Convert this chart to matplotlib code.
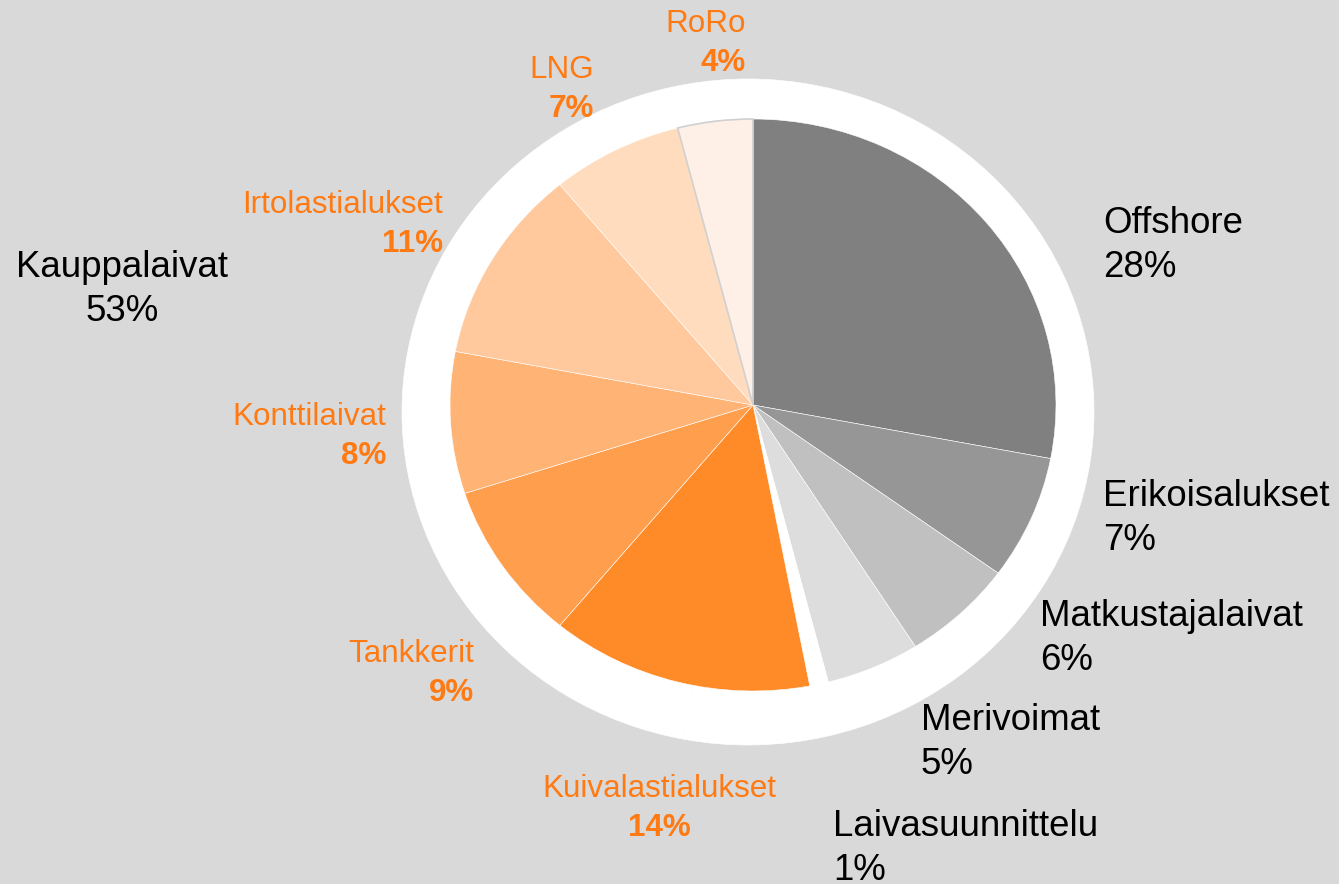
import matplotlib.pyplot as plt

# sectors, clockwise from 12 o'clock
names = ['Offshore', 'Erikoisalukset', 'Matkustajalaivat', 'Merivoimat', 'Laivasuunnittelu',
         'Kuivalastialukset', 'Tankkerit', 'Konttilaivat', 'Irtolastialukset', 'LNG', 'RoRo']
shares = [28, 7, 6, 5, 1, 14, 9, 8, 11, 7, 4]
merchant = [False, False, False, False, False, True, True, True, True, True, True]

group_names = ['Muut', 'Kauppalaivat']
group_shares = [47, 53]

slice_colors = ['#808080', '#969696', '#C0C0C0', '#DDDDDD', '#FFFFFF',
                '#FF8A28', '#FF9E4C', '#FFB374', '#FFC99D', '#FFDCBE', '#FEF0E6']

W, H = 1339, 884
BG = '#D9D9D9'
ORANGE = '#FF7A12'
plt.rcParams['font.family'] = ['Liberation Sans', 'DejaVu Sans']

fig = plt.figure(figsize=(W / 100, H / 100), dpi=100, facecolor=BG)

# outer white ring (slightly wider than tall, like the original)
ax_ring = fig.add_axes([0, 0, 1, 1])
rx, ry = 346, 333
sy = rx / ry
ax_ring.pie(group_shares[::-1], colors=['white', 'white'], startangle=90, counterclock=False,
            radius=rx, center=(748, (H - 412) * sy), frame=True,
            wedgeprops=dict(edgecolor='white', linewidth=0.5))
ax_ring.set_aspect('auto')
ax_ring.set_xlim(0, W)
ax_ring.set_ylim(0, H * sy)
ax_ring.axis('off')

# the pie itself
ax = fig.add_axes([0, 0, 1, 1])
ax.patch.set_alpha(0)
px, py = 303, 286
sy2 = px / py
wedges, _ = ax.pie(shares, colors=slice_colors, startangle=90, counterclock=False,
                   radius=px, center=(753, (H - 405) * sy2), frame=True,
                   wedgeprops=dict(edgecolor='white', linewidth=0.4))
wedges[-1].set_edgecolor('#D0D0D0')
wedges[-1].set_linewidth(1.2)
ax.set_aspect('auto')
ax.set_xlim(0, W)
ax.set_ylim(0, H * sy2)
ax.axis('off')

# label layout: (x, baseline of first line, alignment) in pixels
label_pos = {
    'Offshore': (1103, 233, 'left'),
    'Erikoisalukset': (1103, 506, 'left'),
    'Matkustajalaivat': (1040, 626, 'left'),
    'Merivoimat': (921, 730, 'left'),
    'Laivasuunnittelu': (833, 836, 'left'),
    'Kuivalastialukset': (659, 797, 'center'),
    'Tankkerit': (474, 662, 'right'),
    'Konttilaivat': (386, 425, 'right'),
    'Irtolastialukset': (443, 213, 'right'),
    'LNG': (594, 78, 'right'),
    'RoRo': (746, 32, 'right'),
}


def put(x, y, s, **kw):
    fig.text(x / W, 1 - y / H, s, va='baseline', **kw)


for name, val, m in zip(names, shares, merchant):
    x, y, ha = label_pos[name]
    if m:
        put(x, y, name, ha=ha, fontsize=22.6, color=ORANGE)
        put(x, y + 39, f'{val}%', ha=ha, fontsize=22.6, color=ORANGE, fontweight='bold')
    else:
        put(x, y, name, ha=ha, fontsize=26.4, color='black')
        put(x, y + 44, f'{val}%', ha=ha, fontsize=26.4, color='black')

put(122, 277, group_names[1], ha='center', fontsize=26.4, color='black')
put(122, 321, f'{group_shares[1]}%', ha='center', fontsize=26.4, color='black')

fig.savefig('out.png', dpi=100, facecolor=BG)
